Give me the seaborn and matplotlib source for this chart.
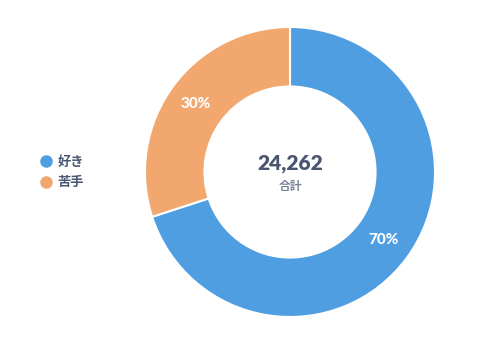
import matplotlib
matplotlib.use("Agg")
import matplotlib.pyplot as plt
from matplotlib.lines import Line2D
import seaborn as sns

labels = ["好き", "苦手"]
values = [16983, 7279]
colors = ["#4f9ee2", "#f2a76e"]
total_label = "合計"

sns.set_theme(style="white")
plt.rcParams["font.family"] = ["Lato", "Noto Sans CJK JP", "DejaVu Sans"]

fig = plt.figure(figsize=(5, 3.56), dpi=100)
fig.patch.set_facecolor("white")
ax = fig.add_axes([145 / 500, 39 / 356, 290 / 500, 290 / 356])

total = sum(values)
wedges, texts, autotexts = ax.pie(
    values, colors=colors, startangle=90, counterclock=False,
    radius=1.0, autopct=lambda p: f"{p:.0f}%", pctdistance=0.8,
    wedgeprops=dict(width=0.41, edgecolor="white", linewidth=1.5))
for t in autotexts:
    t.set_color("white")
    t.set_fontsize(11)
    t.set_fontweight(900)
    t.set_family(["Lato", "DejaVu Sans"])
ax.set_xlim(-1, 1)
ax.set_ylim(-1, 1)
ax.set_aspect("equal")
ax.axis("off")

txt_color = "#4a5570"
ax.text(0, 0.06, f"{total:,}", ha="center", va="center", fontsize=15,
        fontweight=800, color=txt_color, family=["Lato", "DejaVu Sans"])
ax.text(0, -0.1, total_label, ha="center", va="center", fontsize=8.5,
        fontweight=700, color="#7a8299",
        family=["Noto Sans CJK JP", "DejaVu Sans"])

handles = [Line2D([0], [0], marker="o", linestyle="", markersize=8,
                  markerfacecolor=c, markeredgecolor=c) for c in colors]
leg = fig.legend(handles, labels, loc="center left",
                 bbox_to_anchor=(28 / 500, 1 - 172 / 356), frameon=False,
                 handletextpad=0.35, labelspacing=0.5, handlelength=1.0,
                 prop=dict(family=["Noto Sans CJK JP", "DejaVu Sans"],
                           size=9.5, weight=700))
for t in leg.get_texts():
    t.set_color(txt_color)

fig.savefig("out.png", dpi=100, facecolor="white")
